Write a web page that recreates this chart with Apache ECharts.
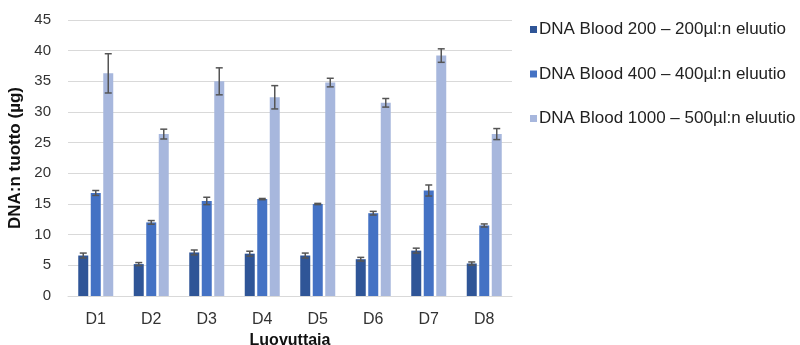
<!DOCTYPE html>
<html>
<head>
<meta charset="utf-8">
<script src="https://cdn.jsdelivr.net/npm/echarts@6/dist/echarts.min.js"></script>
<style>html,body{margin:0;padding:0;background:#fff}#c{width:800px;height:345px}</style>
</head>
<body>
<div id="c"></div>
<script>
var categories = ['D1','D2','D3','D4','D5','D6','D7','D8'];
var seriesNames = ['DNA Blood 200 \u2013 200\u00b5l:n eluutio','DNA Blood 400 \u2013 400\u00b5l:n eluutio','DNA Blood 1000 \u2013 500\u00b5l:n eluutio'];
var blood200 = [6.6, 5.2, 7.1, 6.9, 6.6, 6.0, 7.4, 5.3];
var blood400 = [16.8, 12.0, 15.5, 15.8, 15.0, 13.5, 17.2, 11.5];
var blood1000 = [36.3, 26.4, 35.0, 32.4, 34.8, 31.5, 39.2, 26.4];
var err200 = [0.4, 0.25, 0.4, 0.4, 0.4, 0.3, 0.4, 0.25];
var err400 = [0.4, 0.3, 0.6, 0.1, 0.1, 0.3, 0.9, 0.25];
var err1000 = [3.2, 0.8, 2.2, 1.9, 0.7, 0.7, 1.1, 0.9];
var yTicks = {min: 0, max: 45, interval: 5};

var colors = ['#2F5597', '#4472C4', '#A7B7DD'];
var values = [blood200, blood400, blood1000];
var errs = [err200, err400, err1000];
var font = '"Liberation Sans", Arial, sans-serif';

var chart = echarts.init(document.getElementById('c'));
var series = [];
values.forEach(function (v, i) {
  series.push({
    name: seriesNames[i], type: 'bar', data: v, barWidth: 10, barGap: '25%',
    itemStyle: {color: colors[i]}, z: 2
  });
});
values.forEach(function (v, i) {
  var off = (i - 1) * 12.5;
  series.push({
    type: 'custom', z: 5, silent: true,
    data: v.map(function (val, k) { return [k, val - errs[i][k], val + errs[i][k]]; }),
    renderItem: function (params, api) {
      var lo = api.coord([api.value(0), api.value(1)]);
      var hi = api.coord([api.value(0), api.value(2)]);
      var x = lo[0] + off;
      var h = 3.5;
      var st = {stroke: '#555', lineWidth: 1.5};
      return {type: 'group', children: [
        {type: 'line', shape: {x1: x, y1: lo[1], x2: x, y2: hi[1]}, style: st},
        {type: 'line', shape: {x1: x - h, y1: lo[1], x2: x + h, y2: lo[1]}, style: st},
        {type: 'line', shape: {x1: x - h, y1: hi[1], x2: x + h, y2: hi[1]}, style: st}
      ]};
    },
    encode: {x: 0, y: [1, 2]}
  });
});

chart.setOption({
  animation: false,
  grid: {left: 68, right: 288, top: 20, bottom: 49, containLabel: false, outerBoundsMode: 'none'},
  legend: {
    orient: 'vertical', left: 525, top: 16, itemGap: 27.5,
    itemWidth: 7, itemHeight: 7, icon: 'rect',
    data: seriesNames,
    textStyle: {fontFamily: font, fontSize: 17, color: '#222', padding: [0, 0, 0, -3]}
  },
  xAxis: {
    type: 'category', data: categories,
    axisLine: {lineStyle: {color: '#d9d9d9', width: 1}},
    axisTick: {show: false},
    axisLabel: {fontFamily: font, fontSize: 16, color: '#333', margin: 16},
    name: 'Luovuttaja', nameLocation: 'middle', nameGap: 35,
    nameTextStyle: {fontFamily: font, fontSize: 16, fontWeight: 'bold', color: '#111'}
  },
  yAxis: {
    type: 'value', min: yTicks.min, max: yTicks.max, interval: yTicks.interval,
    axisLine: {show: false}, axisTick: {show: false},
    splitLine: {lineStyle: {color: '#d9d9d9', width: 1}},
    axisLabel: {fontFamily: font, fontSize: 15, color: '#333', margin: 17},
    name: 'DNA:n tuotto (\u00b5g)', nameLocation: 'middle', nameGap: 40, nameRotate: 90,
    nameTextStyle: {fontFamily: font, fontSize: 17, fontWeight: 'bold', color: '#111'}
  },
  series: series
});
</script>
</body>
</html>
